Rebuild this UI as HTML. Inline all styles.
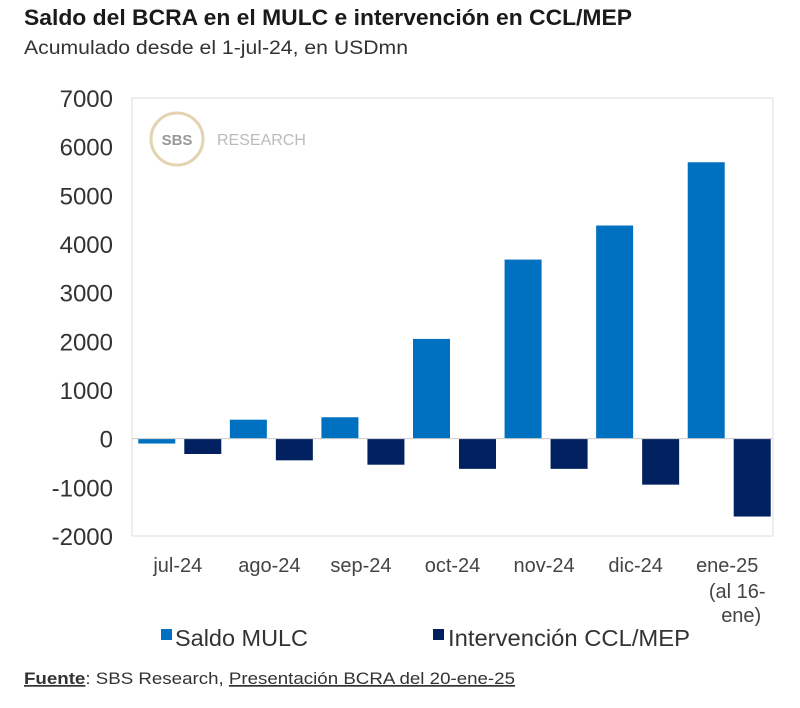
<!DOCTYPE html>
<html><head><meta charset="utf-8"><style>
body{margin:0;background:#fff;width:800px;height:703px;overflow:hidden;font-family:"Liberation Sans",sans-serif;}
svg text{font-family:"Liberation Sans",sans-serif;}
</style></head><body>
<svg id="c" width="800" height="703">
<text x="24" y="25" font-size="22" font-weight="bold" fill="#1a1a1a" textLength="608" lengthAdjust="spacingAndGlyphs">Saldo del BCRA en el MULC e intervención en CCL/MEP</text>
<text x="24" y="54" font-size="19" fill="#333" textLength="384" lengthAdjust="spacingAndGlyphs">Acumulado desde el 1-jul-24, en USDmn</text>
<rect x="132" y="98" width="641" height="438" fill="none" stroke="#ddd"/>
<g>
<circle cx="177" cy="139" r="26" fill="none" stroke="#e3d3b0" stroke-width="3"/>
<text x="177" y="145" font-size="15" font-weight="bold" fill="#999" text-anchor="middle">SBS</text>
<text x="217" y="145" font-size="16" fill="#bbb">RESEARCH</text>
</g>
<g id="yaxis"></g><g id="bars"></g><g id="xaxis"></g>
<g>
<rect x="161" y="629" width="11" height="11" fill="#0070c0"/>
<text x="175" y="646" font-size="23" fill="#333" textLength="133" lengthAdjust="spacingAndGlyphs">Saldo MULC</text>
<rect x="433" y="629" width="11" height="11" fill="#002060"/>
<text x="448" y="646" font-size="23" fill="#333" textLength="242" lengthAdjust="spacingAndGlyphs">Intervención CCL/MEP</text>
</g>
<text x="24" y="684" font-size="17" fill="#333" textLength="491" lengthAdjust="spacingAndGlyphs"><tspan font-weight="bold" text-decoration="underline">Fuente</tspan>: SBS Research,  <tspan text-decoration="underline">Presentación BCRA del 20-ene-25</tspan></text>
</svg>
<script>
const categories=["jul-24","ago-24","sep-24","oct-24","nov-24","dic-24","ene-25"];
const saldo=[-100,390,440,2050,3680,4380,5680];
const intervencion=[-315,-445,-535,-620,-620,-945,-1600];
const yTicks=[7000,6000,5000,4000,3000,2000,1000,0,-1000,-2000];
const NS="http://www.w3.org/2000/svg";
const L=132,R=773,T=98,B=536,ymin=-2000,ymax=7000;
const y=v=>T+(ymax-v)/(ymax-ymin)*(B-T);
const cw=(R-L)/categories.length;
const xc=i=>L+cw*(i+0.5);
function mk(tag,attrs,parent,txt){const e=document.createElementNS(NS,tag);for(const k in attrs)e.setAttribute(k,attrs[k]);if(txt!==undefined)e.textContent=txt;document.getElementById(parent).appendChild(e);return e;}
yTicks.forEach(v=>{const t=mk('text',{x:113,y:y(v)+9,'font-size':24,fill:'#333','text-anchor':'end'},'yaxis',String(v));

});
const bw=37,gap=9;
categories.forEach((c,i)=>{
 const s=saldo[i];const r1=mk('rect',{x:xc(i)-gap/2-bw+2,y:Math.min(y(s),y(0)),width:bw,height:Math.abs(y(s)-y(0)),fill:'#0070c0'},'bars');
 
 
 const v=intervencion[i];const r2=mk('rect',{x:xc(i)+gap/2+2,y:Math.min(y(v),y(0)),width:bw,height:Math.abs(y(v)-y(0)),fill:'#002060'},'bars');
 
 
 const t=mk('text',{x:xc(i),y:572,'font-size':20,fill:'#444','text-anchor':'middle'},'xaxis',c);
 
 
});
const z=mk('line',{x1:L,x2:R,y1:y(0),y2:y(0),stroke:'#ccc'},'bars');


const e1=mk('text',{x:xc(6)+10,y:598,'font-size':20,fill:'#444','text-anchor':'middle'},'xaxis','(al 16-');


const e2=mk('text',{x:xc(6)+14,y:622,'font-size':20,fill:'#444','text-anchor':'middle'},'xaxis','ene)');


</script>
</body></html>
